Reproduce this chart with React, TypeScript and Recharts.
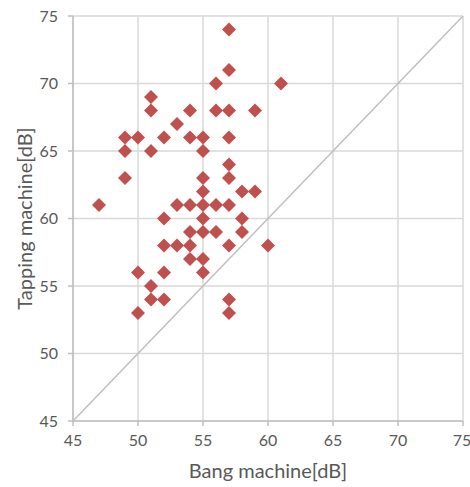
import React from 'react'
import { ScatterChart, Scatter, XAxis, YAxis, CartesianGrid, ReferenceLine } from 'recharts'

const bang = [
  47,
  49, 49, 49,
  50, 50, 50,
  51, 51, 51, 51, 51,
  52, 52, 52, 52, 52,
  53, 53, 53,
  54, 54, 54, 54, 54, 54,
  55, 55, 55, 55, 55, 55, 55, 55, 55,
  56, 56, 56, 56,
  57, 57, 57, 57, 57, 57, 57, 57, 57, 57,
  58, 58, 58,
  59, 59,
  60,
  61
]
const tapping = [
  61,
  66, 65, 63,
  66, 56, 53,
  69, 68, 65, 55, 54,
  66, 60, 58, 56, 54,
  67, 61, 58,
  68, 66, 61, 59, 58, 57,
  66, 65, 63, 62, 61, 60, 59, 57, 56,
  70, 68, 61, 59,
  74, 71, 68, 66, 64, 63, 61, 58, 54, 53,
  62, 60, 59,
  68, 62,
  58,
  70
]
const ticks = [45, 50, 55, 60, 65, 70, 75]

const data = bang.map((x, i) => ({ x, y: tapping[i] }))

const gray = '#595959'
const font = 'Lato, "Open Sans", sans-serif'

const Diamond = (props: any) => {
  const { cx, cy } = props
  const r = 7
  return (
    <polygon
      points={`${cx},${cy - r} ${cx + r},${cy} ${cx},${cy + r} ${cx - r},${cy}`}
      fill="#C0504D"
    />
  )
}

export default function App() {
  return (
    <div style={{ position: 'absolute', left: 0, top: 0, width: 470, height: 487, background: '#fff', fontFamily: font }}>
      <ScatterChart width={470} height={487} margin={{ top: 16, right: 7, left: 0, bottom: 0 }}>
        <CartesianGrid stroke="#D9D9D9" strokeWidth={1.5} />
        <XAxis
          type="number"
          dataKey="x"
          domain={[45, 75]}
          ticks={ticks}
          height={66}
          stroke="#BFBFBF"
          strokeWidth={1.5}
          tickSize={5}
          tickMargin={9}
          tick={{ fill: gray, fontSize: 16, fontFamily: font }}
          label={{ value: 'Bang machine[dB]', position: 'insideBottom', offset: 9, fill: gray, fontSize: 20, fontFamily: font }}
        />
        <YAxis
          type="number"
          dataKey="y"
          domain={[45, 75]}
          ticks={ticks}
          width={73}
          stroke="#BFBFBF"
          strokeWidth={1.5}
          tickSize={5}
          tickMargin={10}
          tick={{ fill: gray, fontSize: 16, fontFamily: font }}
          label={{ value: 'Tapping machine[dB]', angle: -90, position: 'insideLeft', offset: 25, fill: gray, fontSize: 20, fontFamily: font, style: { textAnchor: 'middle' } }}
        />
        <ReferenceLine segment={[{ x: 45, y: 45 }, { x: 75, y: 75 }]} stroke="#BFBFBF" strokeWidth={1.5} />
        <Scatter data={data} shape={Diamond} isAnimationActive={false} />
      </ScatterChart>
    </div>
  )
}
